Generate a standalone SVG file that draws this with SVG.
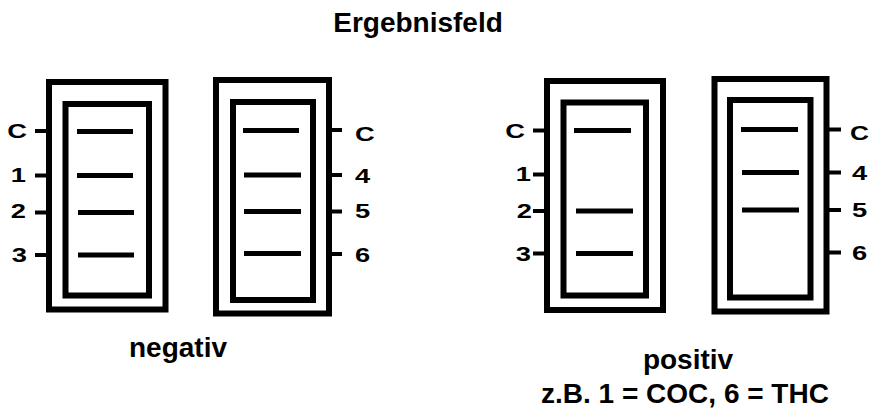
<svg xmlns="http://www.w3.org/2000/svg" width="870" height="408" viewBox="0 0 870 408">
<style>
.box{fill:none;stroke:#000;stroke-width:6}
.band{stroke:#000;stroke-width:5}
.tick{stroke:#000;stroke-width:4}
text{font-family:"Liberation Sans",Arial,sans-serif;font-weight:bold;fill:#000}
.lbl{font-size:21px}
.cap{font-size:28px}
.e{text-anchor:end}
</style>
<rect width="870" height="408" fill="#fff"/>
<text class="cap" x="418" y="32" text-anchor="middle">Ergebnisfeld</text>
<g id="panel-neg-left">
<rect class="box" x="49" y="82" width="116.5" height="227.5"/>
<rect class="box" x="65.5" y="104" width="83.5" height="191.5"/>
<line class="band" x1="77" y1="131.5" x2="133" y2="131.5"/>
<line class="band" x1="77" y1="175.5" x2="133" y2="175.5"/>
<line class="band" x1="78" y1="212.5" x2="134" y2="212.5"/>
<line class="band" x1="78" y1="255" x2="134" y2="255"/>
</g>
<g id="panel-neg-right">
<rect class="box" x="216" y="80" width="113" height="233.5"/>
<rect class="box" x="233" y="102" width="80" height="198"/>
<line class="band" x1="243" y1="130.5" x2="299" y2="130.5"/>
<line class="band" x1="244" y1="175" x2="301" y2="175"/>
<line class="band" x1="244" y1="211.5" x2="301" y2="211.5"/>
<line class="band" x1="244" y1="253.5" x2="301" y2="253.5"/>
</g>
<g id="panel-pos-left">
<rect class="box" x="547" y="81" width="116" height="229"/>
<rect class="box" x="563.5" y="102.5" width="82.5" height="193"/>
<line class="band" x1="574" y1="130.5" x2="631" y2="130.5"/>
<line class="band" x1="576" y1="211" x2="633" y2="211"/>
<line class="band" x1="576" y1="253.5" x2="633" y2="253.5"/>
</g>
<g id="panel-pos-right">
<rect class="box" x="714.5" y="79" width="112" height="232.5"/>
<rect class="box" x="730" y="100" width="80.5" height="197.5"/>
<line class="band" x1="741" y1="129.5" x2="798" y2="129.5"/>
<line class="band" x1="742" y1="172.5" x2="799" y2="172.5"/>
<line class="band" x1="742" y1="210" x2="799" y2="210"/>
</g>
<g id="connectors">
<line class="tick" x1="35" y1="131" x2="47" y2="131"/>
<line class="tick" x1="35" y1="175.5" x2="47" y2="175.5"/>
<line class="tick" x1="35" y1="212.5" x2="47" y2="212.5"/>
<line class="tick" x1="35" y1="255" x2="47" y2="255"/>
<line class="tick" x1="331" y1="130" x2="342" y2="130"/>
<line class="tick" x1="331" y1="175" x2="342" y2="175"/>
<line class="tick" x1="331" y1="211.5" x2="342" y2="211.5"/>
<line class="tick" x1="331" y1="254" x2="342" y2="254"/>
<line class="tick" x1="533" y1="130.5" x2="545" y2="130.5"/>
<line class="tick" x1="533" y1="174.5" x2="545" y2="174.5"/>
<line class="tick" x1="533" y1="211" x2="545" y2="211"/>
<line class="tick" x1="533" y1="253.5" x2="545" y2="253.5"/>
<line class="tick" x1="828" y1="129.5" x2="841" y2="129.5"/>
<line class="tick" x1="828" y1="172.5" x2="841" y2="172.5"/>
<line class="tick" x1="828" y1="210" x2="841" y2="210"/>
<line class="tick" x1="828" y1="252.5" x2="841" y2="252.5"/>
</g>
<g id="labels">
<text class="lbl e" transform="translate(27,138) scale(1.3,1)">C</text>
<text class="lbl e" transform="translate(26,182) scale(1.3,1)">1</text>
<text class="lbl e" transform="translate(26,218) scale(1.3,1)">2</text>
<text class="lbl e" transform="translate(27,262) scale(1.3,1)">3</text>
<text class="lbl" transform="translate(355,141) scale(1.3,1)">C</text>
<text class="lbl" transform="translate(355,183) scale(1.3,1)">4</text>
<text class="lbl" transform="translate(355,218) scale(1.3,1)">5</text>
<text class="lbl" transform="translate(355,262) scale(1.3,1)">6</text>
<text class="lbl e" transform="translate(525,138) scale(1.3,1)">C</text>
<text class="lbl e" transform="translate(531,181) scale(1.3,1)">1</text>
<text class="lbl e" transform="translate(532,218) scale(1.3,1)">2</text>
<text class="lbl e" transform="translate(531,261) scale(1.3,1)">3</text>
<text class="lbl" transform="translate(850,140) scale(1.25,1)">C</text>
<text class="lbl" transform="translate(852,180) scale(1.3,1)">4</text>
<text class="lbl" transform="translate(852,217) scale(1.3,1)">5</text>
<text class="lbl" transform="translate(852,260) scale(1.3,1)">6</text>
<text class="cap" x="178" y="357" text-anchor="middle">negativ</text>
<text class="cap" x="688" y="369" text-anchor="middle">positiv</text>
<text class="cap" x="685" y="403" text-anchor="middle">z.B. 1 = COC, 6 = THC</text>
</g>
</svg>
